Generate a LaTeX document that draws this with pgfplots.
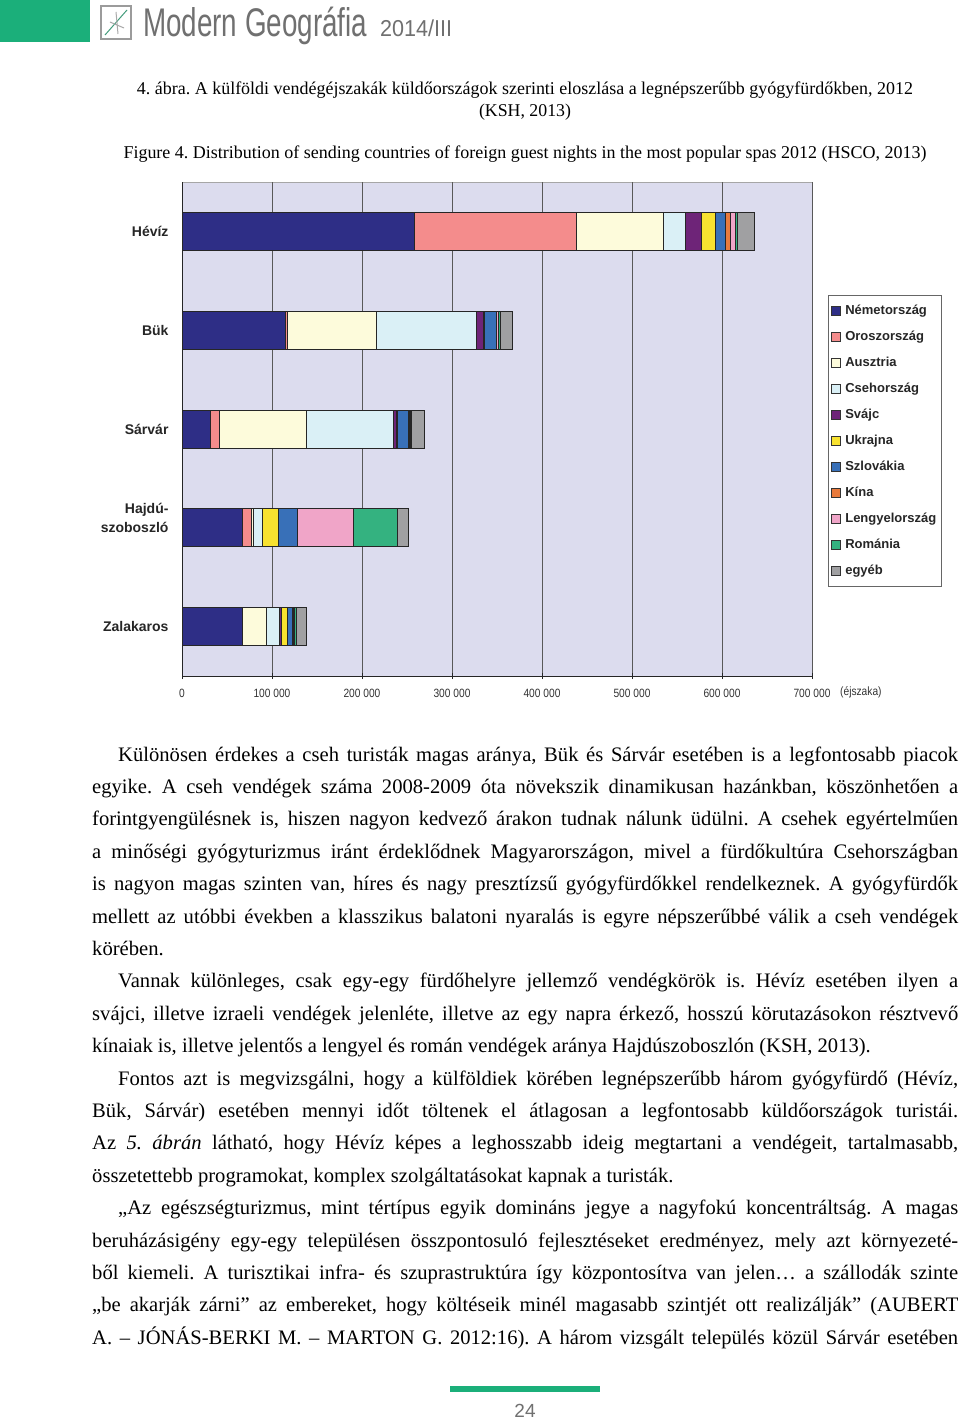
\documentclass[border=0pt]{standalone}
\usepackage{pgfplots}
\usepackage{pgfplotstable}
\pgfplotsset{compat=1.18}
\usepackage{graphicx}
\usepackage{fontspec}
\setmainfont{Liberation Serif}
\setsansfont{Liberation Sans}
\newfontfamily\narrowsans[FakeStretch=0.85]{Liberation Sans}
\frenchspacing

\definecolor{bgcol}{RGB}{220,220,238}
\definecolor{cN}{RGB}{46,46,134}
\definecolor{cO}{RGB}{244,140,140}
\definecolor{cA}{RGB}{253,251,219}
\definecolor{cCs}{RGB}{218,240,246}
\definecolor{cSv}{RGB}{110,36,120}
\definecolor{cU}{RGB}{248,226,48}
\definecolor{cSz}{RGB}{56,112,184}
\definecolor{cK}{RGB}{232,122,60}
\definecolor{cL}{RGB}{240,165,200}
\definecolor{cR}{RGB}{52,178,128}
\definecolor{cE}{RGB}{160,160,162}
\definecolor{headgreen}{RGB}{27,175,122}
\definecolor{headgray}{RGB}{112,112,112}

% stretch a line of text to a given width, keeping its height
\newsavebox\fitbox
\newcommand\fitw[2]{\sbox\fitbox{#2}\pgfmathsetmacro\fitf{#1/\the\wd\fitbox}\scalebox{\fitf}[1]{\usebox\fitbox}}

% guest nights by sending country (pos: 5 = Hévíz ... 1 = Zalakaros)
\pgfplotstableread{
pos N O A Cs Sv U Sz K L R E
5 257900 180800 95700 24700 17900 15700 11500 5500 5500 1500 19800
4 115000 2000 99300 110600 8200 500 13600 500 2200 1500 13200
3 31600 10400 95900 97400 3000 1000 11900 2000 1000 1000 13600
2 66900 9700 2600 9700 500 17500 20800 300 62100 49100 12300
1 66900 500 26300 14500 2600 6300 5600 1000 1000 2000 12000
}\spadata

\begin{document}
\begin{tikzpicture}
\fill[white] (0pt,0pt) rectangle (960pt,-1420pt);

% header
\fill[headgreen] (0pt,0pt) rectangle (90pt,-42pt);
\draw[headgray!70, line width=1.4pt] (101pt,-6pt) rectangle (131pt,-39pt);
\draw[headgreen!60!gray, line width=1pt] (105pt,-35pt) -- (127pt,-10pt);
\draw[headgray!60, line width=1pt] (110pt,-22pt) -- (124pt,-28pt) (116pt,-12pt) -- (118pt,-34pt);
\node[anchor=base west, inner sep=0, text=headgray] at (143pt,-37pt)
  {\fitw{224pt}{\sffamily\fontsize{40}{40}\selectfont Modern Geográfia}};
\node[anchor=base west, inner sep=0, text=headgray] at (380pt,-37pt)
  {\fitw{72pt}{\sffamily\fontsize{23}{23}\selectfont 2014/III}};

% captions
\node[anchor=base, inner sep=0] at (525pt,-95pt)
  {\fitw{776pt}{\fontsize{18}{18}\selectfont 4. ábra. A külföldi vendégéjszakák küldőországok szerinti eloszlása a legnépszerűbb gyógyfürdőkben, 2012}};
\node[anchor=base, inner sep=0] at (525pt,-117pt)
  {\fitw{92pt}{\fontsize{18}{18}\selectfont (KSH, 2013)}};
\node[anchor=base, inner sep=0] at (525pt,-159pt)
  {\fitw{803pt}{\fontsize{18}{18}\selectfont Figure 4. Distribution of sending countries of foreign guest nights in the most popular spas 2012 (HSCO, 2013)}};

% chart
\begin{axis}[
  at={(182pt,-676pt)}, anchor=south west,
  scale only axis, width=630pt, height=494pt,
  xbar stacked, bar width=38pt,
  xmin=0, xmax=700000, ymin=0.5, ymax=5.5,
  enlargelimits=false,
  axis x line=bottom, axis y line=left,
  axis line style={-, black!85, line width=0.9pt},
  axis background/.style={fill=bgcol, draw=black!35},
  xmajorgrids, grid style={black!65, line width=0.8pt},
  xtick={0,100000,...,700000},
  xticklabels={0,100 000,200 000,300 000,400 000,500 000,600 000,700 000},
  scaled x ticks=false,
  xticklabel style={font=\narrowsans\fontsize{12}{12}\selectfont, text=black!80, yshift=-7pt},
  tick align=center, major tick length=6pt,
  xtick style={black!85, line width=0.8pt},
  ytick={1,2,3,4,5},
  yticklabels={Zalakaros,{Hajdú-\\szoboszló\\\phantom{X}},Sárvár,Bük,Hévíz},
  yticklabel style={font=\sffamily\bfseries\fontsize{14}{19}\selectfont, text=black!85, align=right, xshift=-7pt},
  ytick style={draw=none},
  every axis plot/.append style={draw=black!85, line width=0.8pt},
  legend style={at={(1.0254,0.7713)}, anchor=north west, draw=black!60, fill=white,
    font=\sffamily\bfseries\fontsize{13}{13}\selectfont, text=black!85,
    inner xsep=3pt, inner ysep=8pt, row sep=11pt,
    nodes={text height=9.5pt, text depth=2.5pt, inner sep=1.5pt},
    /tikz/every odd column/.append style={column sep=3pt}},
  legend cell align=left,
  legend image code/.code={\draw[#1, draw=black!80, line width=0.6pt] (0pt,-4.5pt) rectangle (9pt,4.5pt);},
]
\addplot[fill=cN]  table[x=N, y=pos]{\spadata};
\addlegendentry{Németország}
\addplot[fill=cO]  table[x=O, y=pos]{\spadata};
\addlegendentry{Oroszország}
\addplot[fill=cA]  table[x=A, y=pos]{\spadata};
\addlegendentry{Ausztria}
\addplot[fill=cCs] table[x=Cs, y=pos]{\spadata};
\addlegendentry{Csehország}
\addplot[fill=cSv] table[x=Sv, y=pos]{\spadata};
\addlegendentry{Svájc}
\addplot[fill=cU]  table[x=U, y=pos]{\spadata};
\addlegendentry{Ukrajna}
\addplot[fill=cSz] table[x=Sz, y=pos]{\spadata};
\addlegendentry{Szlovákia}
\addplot[fill=cK]  table[x=K, y=pos]{\spadata};
\addlegendentry{Kína}
\addplot[fill=cL]  table[x=L, y=pos]{\spadata};
\addlegendentry{Lengyelország}
\addplot[fill=cR]  table[x=R, y=pos]{\spadata};
\addlegendentry{Románia}
\addplot[fill=cE]  table[x=E, y=pos]{\spadata};
\addlegendentry{egyéb}
\end{axis}
\node[anchor=west, inner sep=0, font=\narrowsans\fontsize{12}{12}\selectfont, text=black!80] at (840pt,-692pt) {(éjszaka)};

% body text
\node[anchor=base west, inner sep=0] at (92pt,-761pt) {\begin{minipage}[t]{866pt}
\fontsize{20.6}{32.4}\selectfont\setlength\parindent{26pt}\setlength\parskip{0pt}%
Különösen érdekes a cseh turisták magas aránya, Bük és Sárvár esetében is a legfontosabb piacok\linebreak
egyike. A cseh vendégek száma 2008-2009 óta növekszik dinamikusan hazánkban, köszönhetően a\linebreak
forintgyengülésnek is, hiszen nagyon kedvező árakon tudnak nálunk üdülni. A csehek egyértelműen\linebreak
a minőségi gyógyturizmus iránt érdeklődnek Magyarországon, mivel a fürdőkultúra Csehországban\linebreak
is nagyon magas szinten van, híres és nagy presztízsű gyógyfürdőkkel rendelkeznek. A gyógyfürdők\linebreak
mellett az utóbbi években a klasszikus balatoni nyaralás is egyre népszerűbbé válik a cseh vendégek\linebreak
körében.\par
Vannak különleges, csak egy-egy fürdőhelyre jellemző vendégkörök is. Hévíz esetében ilyen a\linebreak
svájci, illetve izraeli vendégek jelenléte, illetve az egy napra érkező, hosszú körutazásokon résztvevő\linebreak
kínaiak is, illetve jelentős a lengyel és román vendégek aránya Hajdúszoboszlón (KSH, 2013).\par
Fontos azt is megvizsgálni, hogy a külföldiek körében legnépszerűbb három gyógyfürdő (Hévíz,\linebreak
Bük, Sárvár) esetében mennyi időt töltenek el átlagosan a legfontosabb küldőországok turistái.\linebreak
Az \textit{5. ábrán} látható, hogy Hévíz képes a leghosszabb ideig megtartani a vendégeit, tartalmasabb,\linebreak
összetettebb programokat, komplex szolgáltatásokat kapnak a turisták.\par
„Az egészségturizmus, mint tértípus egyik domináns jegye a nagyfokú koncentráltság. A magas\linebreak
beruházásigény egy-egy településen összpontosuló fejlesztéseket eredményez, mely azt környezeté-\linebreak
ből kiemeli. A turisztikai infra- és szuprastruktúra így központosítva van jelen… a szállodák szinte\linebreak
„be akarják zárni” az embereket, hogy költéseik minél magasabb szintjét ott realizálják” (AUBERT\linebreak
A. – JÓNÁS-BERKI M. – MARTON G. 2012:16). A három vizsgált település közül Sárvár esetében\parfillskip=0pt\par
\end{minipage}};

% footer
\fill[headgreen] (450pt,-1386pt) rectangle (600pt,-1392pt);
\node[anchor=base, inner sep=0, text=headgray, font=\sffamily\fontsize{19}{19}\selectfont] at (525pt,-1417pt) {24};
\end{tikzpicture}
\end{document}
